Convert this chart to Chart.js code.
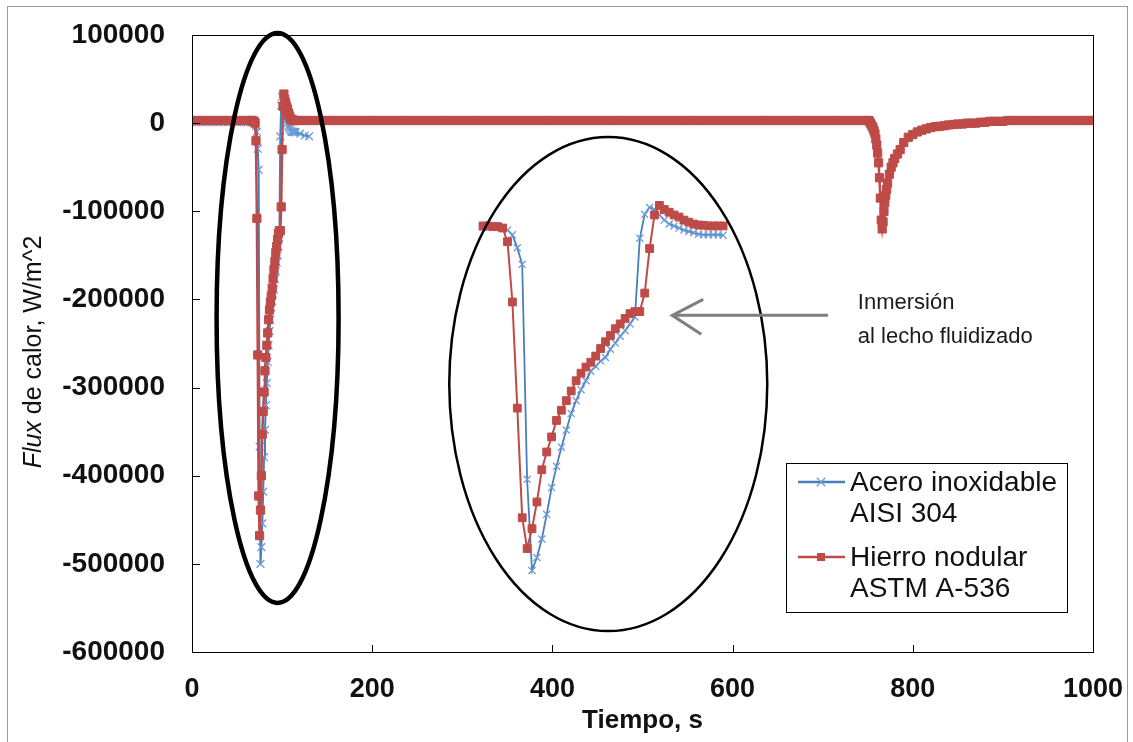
<!DOCTYPE html>
<html>
<head>
<meta charset="utf-8">
<script src="https://cdn.jsdelivr.net/npm/chart.js@4.4.0/dist/chart.umd.min.js"></script>
<style>
  html, body { margin: 0; padding: 0; background: #fff; }
  #wrap { width: 1133px; height: 742px; }
</style>
</head>
<body>
<div id="wrap"><canvas id="fluxChart" width="1133" height="742"></canvas></div>
<script>
// tick labels
const xTicks = [0, 200, 400, 600, 800, 1000];
const yTicks = [100000, 0, -100000, -200000, -300000, -400000, -500000, -600000];

const legendLines = [['Acero inoxidable', 'AISI 304'], ['Hierro nodular', 'ASTM A-536']];
const noteLines = ['Inmersión', 'al lecho fluidizado'];

// Acero inoxidable AISI 304 (blue)
const aceroTime = [
  0, 5, 10, 15, 20, 25, 30, 35, 40, 45, 50, 55, 60, 65,
  66, 67, 68, 69, 70, 71, 72, 73, 74, 75, 76, 77, 78, 79, 80, 81, 82, 83, 84, 85,
  86, 87, 88, 89, 90, 91, 92, 93, 94, 95, 96, 97, 98, 99, 100, 101, 102, 103, 104, 105,
  106, 107, 108, 109, 110, 111, 112, 113, 114, 115,
  120, 125, 130
];
const aceroFlux = [
  1000, 1000, 1000, 1000, 1000, 1000, 1000, 1000, 1000, 1000, 1000, 1000, 1000, 1000,
  1000, 1000, 1000, 1000, 0, -3000, -10000, -29000, -53000, -367000, -500000, -481000, -454000, -418000, -379000, -348000, -320000, -295000, -271000, -252000,
  -236000, -223000, -209000, -202000, -194000, -189000, -177000, -168000, -158000, -150000, -140000, -130000, -15000, 20000, 30000, 27000, 19000, 11500, 5800, 3000,
  0, -3000, -5000, -7000, -9000, -10000, -10000, -10000, -10000, -10500,
  -12000, -14000, -15000
];

// Hierro nodular ASTM A-536 (red)
const hierroTime = [
  0, 5, 10, 15, 20, 25, 30, 35, 40, 45, 50, 55, 60, 65,
  66, 67, 68, 69, 70, 71, 72, 73, 74, 75, 76, 77, 78, 79, 80, 81, 82, 83, 84, 85,
  86, 87, 88, 89, 90, 91, 92, 93, 94, 95, 96, 97, 98, 99, 100, 101, 102, 103, 104, 105,
  106, 107, 108, 109, 110, 111, 112, 113, 114, 115,
  120, 125, 130, 135, 140, 145, 150, 155, 160, 165, 170, 175, 180, 185, 190, 195, 200, 205, 210, 215,
  220, 225, 230, 235, 240, 245, 250, 255, 260, 265, 270, 275, 280, 285, 290, 295, 300, 305, 310, 315,
  320, 325, 330, 335, 340, 345, 350, 355, 360, 365, 370, 375, 380, 385, 390, 395, 400, 405, 410, 415,
  420, 425, 430, 435, 440, 445, 450, 455, 460, 465, 470, 475, 480, 485, 490, 495, 500, 505, 510, 515,
  520, 525, 530, 535, 540, 545, 550, 555, 560, 565, 570, 575, 580, 585, 590, 595, 600, 605, 610, 615,
  620, 625, 630, 635, 640, 645, 650, 655, 660, 665, 670, 675, 680, 685, 690, 695, 700, 705, 710, 715,
  720, 725, 730, 735, 740, 745, 750,
  751, 752, 753, 754, 755, 756, 757, 758, 759, 760, 761, 762, 763, 764, 765, 766, 767, 768, 769, 770,
  771, 772, 774, 776, 778, 780, 783, 786, 790, 795, 800,
  805, 810, 815, 820, 825, 830, 835, 840, 845, 850, 855, 860, 865, 870, 875, 880, 885, 890, 895, 900,
  905, 910, 915, 920, 925, 930, 935, 940, 945, 950, 955, 960, 965, 970, 975, 980, 985, 990, 995, 1000
];
const hierroFlux = [
  3000, 3000, 3000, 3000, 3000, 3000, 3000, 3000, 3000, 3000, 3000, 3000, 3000, 3000,
  3000, 3000, 2000, 2000, 0, -20000, -108000, -263000, -423000, -468000, -439000, -400000, -353000, -327000, -305000, -281000, -266000, -252000, -238000, -223000,
  -212000, -203000, -196000, -187000, -176000, -166000, -157000, -147000, -140000, -132000, -125000, -122000, -122000, -95000, -30000, 19000, 33000, 27000, 23000, 19000,
  16000, 11500, 8600, 5800, 4300, 4000, 3000, 3000, 3000, 3000,
  3000, 3000, 3000, 3000, 3000, 3000, 3000, 3000, 3000, 3000, 3000, 3000, 3000, 3000, 3000, 3000, 3000, 3000, 3000, 3000,
  3000, 3000, 3000, 3000, 3000, 3000, 3000, 3000, 3000, 3000, 3000, 3000, 3000, 3000, 3000, 3000, 3000, 3000, 3000, 3000,
  3000, 3000, 3000, 3000, 3000, 3000, 3000, 3000, 3000, 3000, 3000, 3000, 3000, 3000, 3000, 3000, 3000, 3000, 3000, 3000,
  3000, 3000, 3000, 3000, 3000, 3000, 3000, 3000, 3000, 3000, 3000, 3000, 3000, 3000, 3000, 3000, 3000, 3000, 3000, 3000,
  3000, 3000, 3000, 3000, 3000, 3000, 3000, 3000, 3000, 3000, 3000, 3000, 3000, 3000, 3000, 3000, 3000, 3000, 3000, 3000,
  3000, 3000, 3000, 3000, 3000, 3000, 3000, 3000, 3000, 3000, 3000, 3000, 3000, 3000, 3000, 3000, 3000, 3000, 3000, 3000,
  3000, 3000, 3000, 3000, 3000, 3000, 3000,
  3000, 2000, 0, -2000, -4000, -6000, -9000, -12000, -18000, -25000, -34000, -45000, -62000, -85000, -110000, -120000, -112000, -100000, -90000, -82000,
  -75000, -68000, -58000, -50000, -45000, -40000, -35000, -30000, -22000, -16000, -13000,
  -10000, -8000, -6500, -5000, -4000, -3500, -3000, -2000, -1500, -1000, -1000, 0, 0, 0, 1000, 1000, 2000, 2000, 2000, 2000,
  3000, 3000, 3000, 3000, 3000, 3000, 3000, 3000, 3000, 3000, 3000, 3000, 3000, 3000, 3000, 3000, 3000, 3000, 3000, 3000
];

// magnified window shown inside the right ellipse
const insetFrom = 66;
const insetTo = 115;

const FONT = 'Arial, "Liberation Sans", sans-serif';
const BLUE = '#4A7EBB';
const RED = '#BE4B48';

function points(times, values, from, to) {
  const out = [];
  times.forEach((t, i) => {
    if (t >= from && t <= to) out.push({ x: t, y: values[i] });
  });
  return out;
}

function blueStyle(extra) {
  return Object.assign({
    borderColor: BLUE, backgroundColor: BLUE, borderWidth: 2,
    pointStyle: 'crossRot', pointRadius: 5.5, pointBorderColor: '#6b9bd8',
    pointBorderWidth: 1.3, pointHoverRadius: 5.5, order: 1
  }, extra);
}
function redStyle(extra) {
  return Object.assign({
    borderColor: RED, backgroundColor: RED, borderWidth: 2.5,
    pointStyle: 'rect', pointRadius: 5.8, pointBorderColor: RED,
    pointBackgroundColor: RED, pointBorderWidth: 1, pointHoverRadius: 5.8, order: 0
  }, extra);
}

function drawCross(ctx, x, y, r) {
  const d = r * Math.SQRT1_2;
  ctx.beginPath();
  ctx.moveTo(x - d, y - d); ctx.lineTo(x + d, y + d);
  ctx.moveTo(x - d, y + d); ctx.lineTo(x + d, y - d);
  ctx.stroke();
}

const decorations = {
  id: 'decorations',
  beforeDraw(chart) {
    const ctx = chart.ctx;
    ctx.save();
    ctx.fillStyle = '#fff';
    ctx.fillRect(0, 0, chart.width, chart.height);
    ctx.restore();
  },
  afterDraw(chart) {
    const { ctx, chartArea: a, scales: { x, y } } = chart;
    ctx.save();

    // plot frame + inward tick marks
    ctx.strokeStyle = '#000';
    ctx.lineWidth = 1;
    ctx.strokeRect(a.left + 0.5, a.top + 0.5, a.right - a.left, a.bottom - a.top);
    ctx.beginPath();
    x.ticks.forEach(t => {
      const px = Math.round(x.getPixelForValue(t.value)) + 0.5;
      ctx.moveTo(px, a.bottom); ctx.lineTo(px, a.bottom - 7);
    });
    y.ticks.forEach(t => {
      const py = Math.round(y.getPixelForValue(t.value)) + 0.5;
      ctx.moveTo(a.left, py); ctx.lineTo(a.left + 8, py);
    });
    ctx.stroke();

    // ellipses
    ctx.strokeStyle = '#000';
    ctx.lineWidth = 4.5;
    ctx.beginPath();
    ctx.ellipse(x.getPixelForValue(95), y.getPixelForValue(-221000), 61, 285, 0, 0, Math.PI * 2);
    ctx.stroke();
    ctx.lineWidth = 2.5;
    ctx.beginPath();
    ctx.ellipse(x.getPixelForValue(462), y.getPixelForValue(-296000), 159, 247, 0, 0, Math.PI * 2);
    ctx.stroke();

    // arrow
    const ay = y.getPixelForValue(-218000);
    const tip = x.getPixelForValue(533);
    const tail = x.getPixelForValue(706);
    ctx.strokeStyle = '#7f7f7f';
    ctx.lineWidth = 3;
    ctx.beginPath();
    ctx.moveTo(tail, ay); ctx.lineTo(tip, ay);
    ctx.moveTo(tip + 31, ay - 16); ctx.lineTo(tip, ay); ctx.lineTo(tip + 29, ay + 19);
    ctx.stroke();

    // annotation text
    ctx.fillStyle = '#1a1a1a';
    ctx.font = '22px ' + FONT;
    ctx.textAlign = 'left';
    ctx.textBaseline = 'middle';
    ctx.fillText(noteLines[0], x.getPixelForValue(739), y.getPixelForValue(-204000));
    ctx.fillText(noteLines[1], x.getPixelForValue(739), y.getPixelForValue(-243000));

    // legend
    const lx = 786, ly = 463, lw = 281, lh = 149;
    ctx.fillStyle = '#fff';
    ctx.fillRect(lx, ly, lw, lh);
    ctx.strokeStyle = '#000';
    ctx.lineWidth = 1;
    ctx.strokeRect(lx + 0.5, ly + 0.5, lw, lh);
    const rows = [
      { cy: ly + 19, color: BLUE, marker: 'cross' },
      { cy: ly + 94, color: RED, marker: 'rect' }
    ];
    rows.forEach((r, i) => {
      ctx.strokeStyle = r.color;
      ctx.lineWidth = 2.5;
      ctx.beginPath();
      ctx.moveTo(lx + 12, r.cy); ctx.lineTo(lx + 59, r.cy);
      ctx.stroke();
      if (r.marker === 'cross') {
        ctx.strokeStyle = '#6b9bd8';
        ctx.lineWidth = 1.3;
        drawCross(ctx, lx + 35, r.cy, 6);
      } else {
        ctx.fillStyle = r.color;
        ctx.fillRect(lx + 31, r.cy - 4, 8, 8);
      }
      ctx.fillStyle = '#111';
      ctx.font = '28px ' + FONT;
      ctx.textBaseline = 'middle';
      ctx.fillText(legendLines[i][0], lx + 64, r.cy + 1);
      ctx.fillText(legendLines[i][1], lx + 64, r.cy + 32);
    });

    // y axis title with italic "Flux"
    ctx.save();
    ctx.translate(34, 352);
    ctx.rotate(-Math.PI / 2);
    ctx.fillStyle = '#111';
    ctx.textBaseline = 'middle';
    ctx.textAlign = 'left';
    const part1 = 'Flux', part2 = ' de calor, W/m^2';
    ctx.font = 'italic 25px ' + FONT;
    const w1 = ctx.measureText(part1).width;
    ctx.font = '25px ' + FONT;
    const w2 = ctx.measureText(part2).width;
    const sx = -(w1 + w2) / 2;
    ctx.font = 'italic 25px ' + FONT;
    ctx.fillText(part1, sx, 0);
    ctx.font = '25px ' + FONT;
    ctx.fillText(part2, sx + w1, 0);
    ctx.restore();

    // outer picture border
    ctx.strokeStyle = '#9a9a9a';
    ctx.lineWidth = 1;
    ctx.strokeRect(7.5, 6.5, 1120, 800);

    ctx.restore();
  }
};

new Chart(document.getElementById('fluxChart'), {
  type: 'line',
  data: {
    datasets: [
      blueStyle({ label: 'Acero inoxidable AISI 304', data: points(aceroTime, aceroFlux, -Infinity, Infinity) }),
      redStyle({ label: 'Hierro nodular ASTM A-536', data: points(hierroTime, hierroFlux, -Infinity, Infinity) }),
      blueStyle({ label: 'inset acero', data: points(aceroTime, aceroFlux, insetFrom, insetTo), xAxisID: 'xIn', yAxisID: 'yIn', borderWidth: 1.8, pointRadius: 5 }),
      redStyle({ label: 'inset hierro', data: points(hierroTime, hierroFlux, insetFrom, insetTo), xAxisID: 'xIn', yAxisID: 'yIn', borderWidth: 2, pointRadius: 5.5 })
    ]
  },
  options: {
    responsive: false,
    animation: false,
    devicePixelRatio: 1,
    layout: { padding: { left: 0, top: 35, right: 40, bottom: 0 } },
    plugins: { legend: { display: false }, tooltip: { enabled: false } },
    elements: { line: { tension: 0 } },
    scales: {
      x: {
        type: 'linear', min: 0, max: 1000,
        afterBuildTicks: s => { s.ticks = xTicks.map(v => ({ value: v })); },
        afterFit: s => { s.height = 90; s.paddingLeft = 0; s.paddingRight = 0; },
        grid: { display: false },
        border: { display: false },
        ticks: { color: '#111', padding: 13, maxRotation: 0, font: { family: FONT, size: 27, weight: 'bold' }, callback: v => String(v) },
        title: { display: true, text: 'Tiempo, s', color: '#111', padding: { top: 0, bottom: 6 }, font: { family: FONT, size: 26, weight: 'bold' } }
      },
      y: {
        type: 'linear', min: -600000, max: 100000,
        afterBuildTicks: s => { s.ticks = yTicks.map(v => ({ value: v })); },
        afterFit: s => { s.width = 192; s.paddingTop = 0; s.paddingBottom = 0; },
        grid: { display: false },
        border: { display: false },
        ticks: { color: '#111', padding: 19, font: { family: FONT, size: 28, weight: 'bold' }, callback: v => String(v) }
      },
      xIn: { type: 'linear', display: false, min: 6.61, max: 190.49 },
      yIn: { type: 'linear', display: false, min: -619040, max: 281780 }
    }
  },
  plugins: [decorations]
});
</script>
</body>
</html>
